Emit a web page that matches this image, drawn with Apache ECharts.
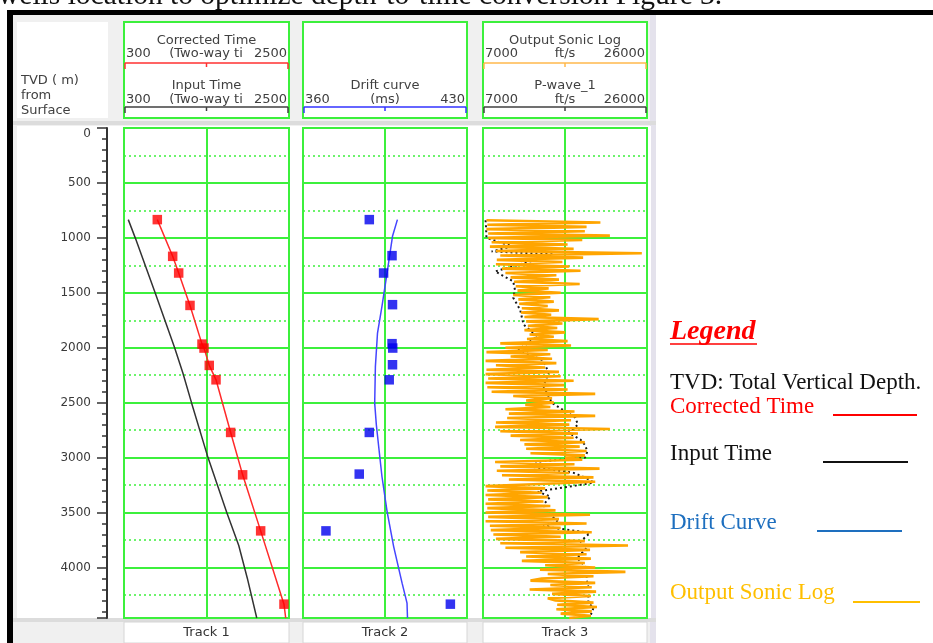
<!DOCTYPE html>
<html>
<head>
<meta charset="utf-8">
<script src="https://cdn.jsdelivr.net/npm/echarts@6/dist/echarts.min.js"></script>
<style>
html, body { margin: 0; padding: 0; background: #fff; }
#chart { width: 933px; height: 643px; }
</style>
</head>
<body>
<div id="chart"></div>
<script>
// TVD axis (m)
var depthMax = 4460;

// track scales
var timeScale = [300, 2500];
var driftScale = [360, 430];
var sonicScale = [7000, 26000];

// track 1 - corrected time picks (squares) and curve
var corrDepth = [834, 1168, 1320, 1615, 1967, 2003, 2161, 2292, 2771, 3157, 3667, 4334];
var corrTime = [744, 949, 1029, 1180, 1340, 1367, 1437, 1527, 1722, 1882, 2122, 2433];
var corrCurveDepth = [834, 1168, 1320, 1615, 1967, 2003, 2161, 2292, 2771, 3157, 3667, 4334, 4460];
var corrCurveTime = [744, 949, 1029, 1180, 1340, 1367, 1437, 1527, 1722, 1882, 2122, 2433, 2456];

// track 1 - input time
var inputDepth = [834, 1000, 1500, 2000, 2230, 2500, 3000, 3500, 3800, 4100, 4460];
var inputTime = [357, 450, 715, 975, 1085, 1200, 1420, 1670, 1830, 1945, 2070];

// track 2 - drift
var driftPickDepth = [834, 1162, 1320, 1608, 1963, 2003, 2155, 2292, 2771, 3150, 3667, 4334];
var driftPickVal = [388.3, 398, 394.4, 398.2, 398, 398.3, 398.2, 396.8, 388.3, 384, 369.8, 422.9];
var driftDepth = [834, 986, 1317, 1624, 1866, 2170, 2504, 2701, 2899, 3172, 3491, 3810, 4143, 4325, 4460];
var driftVal = [400.3, 398.2, 395.9, 393.7, 391.8, 390.9, 390.6, 391.3, 392.3, 393.7, 395.9, 398.7, 402.3, 404.4, 404.6];

// track 3 - output sonic log, sampled every 20 m from 840 m
var sonicTop = 840, sonicStep = 20;
var sonicVel = [
  7400, 20600, 7500, 19000, 7400, 18800, 7600, 21700,
  7600, 18500, 8000, 16800, 7800, 17500,
  8500, 25400,
  9000, 18600, 8600, 16200,
  8500, 17000, 9200, 18300, 9600, 15500,
  10200, 15800, 10600, 18200, 10800, 14600, 11000,
  16000, 10500, 14800, 11100,
  15200, 11200, 14500, 11500, 15800, 11400, 14900, 11800, 20400,
  12000, 16200, 12200, 15600, 11800, 16500, 12400, 15200, 12100, 16800,
  9000, 17200,
  9600, 14500, 7400, 14800, 10200,
  15000, 7300, 15500, 8500, 14200, 7400, 15800,
  7300, 16000, 7600, 17500, 7300, 16400, 7500, 16800, 8000,
  20000, 10500,
  15000, 12000, 15200, 11900, 14800,
  9600, 17600, 10000, 20000, 9800, 17200, 8500,
  17000, 8400, 21700, 9000, 18000, 10200, 17500,
  11300, 18800, 11800, 18200, 12000, 19000, 12500,
  18800, 16500, 18500,
  8400, 17600, 9000, 20500, 8600, 17000, 9200, 19800, 10000,
  20000, 13600,
  7300, 14200, 7500, 13800, 7300, 14500, 7600, 14000, 7300, 14800, 7500,
  15400, 7300, 19400, 7600, 15800, 7300, 19000, 7800, 16000,
  7900, 19600, 8200, 16000, 8500,
  18800, 9000, 23800, 9600,
  19400, 11300, 19000, 12000, 19500, 11500, 18800,
  14200, 20000, 13600, 23500, 14500, 19800, 13800,
  12500, 20000, 14800, 19600, 12400, 20100, 15000, 19500, 14500,
  15400, 19800, 15600, 20200, 15500, 19600, 16000, 19500,
  17000
];

// track 3 - P-wave_1
var pwaveDepth = [840, 900, 1000, 1077, 1123, 1150, 1214, 1305, 1396, 1472, 1545, 1654, 1790, 1897, 2018, 2109, 2155, 2228, 2350, 2503, 2637, 2700, 2774, 2837, 2883, 2944, 3002, 3035, 3081, 3139, 3202, 3229, 3309, 3354, 3430, 3503, 3580, 3627, 3685, 3764, 3824, 3913, 4004, 4113, 4174, 4265, 4323, 4368, 4430];
var pwaveVel = [7300, 7350, 7400, 10400, 8000, 15100, 12500, 8400, 10500, 10700, 10500, 11300, 11700, 13300, 11100, 13800, 14200, 14600, 14000, 15000, 17700, 18000, 16900, 18300, 18800, 19100, 18800, 13600, 12500, 17500, 19400, 19800, 13300, 14800, 14000, 14600, 15600, 14000, 19400, 18300, 19000, 17900, 19000, 19000, 19200, 19200, 19200, 19800, 19500];

function pairs(xs, ys) {
  return xs.map(function (x, i) { return [x, ys[i]]; });
}

var sonicData = sonicVel.map(function (v, i) { return [v, sonicTop + i * sonicStep]; });

var green = '#3cf03c';
var hdrFont = '13px "DejaVu Sans"';
var hdrColor = '#404040';
var tracks = [
  { left: 124, width: 165, label: 'Track 1' },
  { left: 303, width: 164, label: 'Track 2' },
  { left: 483, width: 164, label: 'Track 3' }
];
var plotTop = 128, plotHeight = 490;

function txt(x, y, s, align, font, color) {
  return {
    type: 'text', silent: true, z: 10,
    style: {
      text: s, x: x, y: y, font: font || hdrFont, fill: color || hdrColor,
      align: align || 'left', textAlign: align || 'left',
      verticalAlign: 'middle', textVerticalAlign: 'middle'
    }
  };
}
function seg(x1, y1, x2, y2, color, w) {
  return { type: 'line', silent: true, z: 10, shape: { x1: x1, y1: y1, x2: x2, y2: y2 }, style: { stroke: color, lineWidth: w || 1.5 } };
}
function rect(x, y, w, h, fill, stroke, lw, z) {
  return { type: 'rect', silent: true, z: z || 0, shape: { x: x, y: y, width: w, height: h }, style: { fill: fill, stroke: stroke || null, lineWidth: lw || 0 } };
}
function scaleBar(t, y, color) {
  var l = t.left + 1, r = t.left + t.width - 1, m = t.left + t.width / 2;
  return [seg(l, y, r, y, color, 1.5), seg(l, y, l, y + 6, color, 1.5), seg(m, y, m, y + 4, color, 1.5), seg(r, y, r, y + 6, color, 1.5)];
}
function scaleText(t, y, lo, mid, hi, midX) {
  return [
    txt(t.left + 2, y, String(lo), 'left'),
    txt(midX, y, mid, 'center'),
    txt(t.left + t.width - 2, y, String(hi), 'right')
  ];
}

var g = [];
// cut-off caption at the very top
g.push({ type: 'text', silent: true, z: 0, style: { text: 'wells location to optimize depth-to-time conversion Figure 3.', x: -2, y: 11.5, font: '29.5px "Liberation Serif"', fill: '#111', textVerticalAlign: 'bottom', verticalAlign: 'bottom' } });
// frame
g.push(rect(13, 15, 643, 628, '#f0f0f0'));
g.push(rect(650, 15, 6, 628, '#e4e2ec'));
g.push(rect(7, 10, 926, 5, '#000', null, 0, 3));
g.push(rect(7, 10, 6, 633, '#000', null, 0, 3));
// header boxes
g.push(rect(17, 22, 91, 96, '#fff'));
g.push(rect(13, 121, 643, 4, '#dcdcdc'));
g.push(rect(17, 126, 634, 493, '#fff'));
g.push(rect(13, 618, 643, 4, '#dcdcdc'));
g.push(txt(21, 81, 'TVD ( m)', 'left'));
g.push(txt(21, 96, 'from', 'left'));
g.push(txt(21, 111, 'Surface', 'left'));
tracks.forEach(function (t) {
  g.push(rect(t.left, 22, t.width, 96, '#fff', green, 2, 1));
  g.push(rect(t.left, 622, t.width, 21, '#fff', '#d6d6d6', 1, 1));
  g.push(txt(t.left + t.width / 2, 633, t.label, 'center', '13px "DejaVu Sans"', '#333'));
});
var t1 = tracks[0], t2 = tracks[1], t3 = tracks[2];
g.push(txt(t1.left + t1.width / 2, 41, 'Corrected Time', 'center'));
g = g.concat(scaleText(t1, 54, timeScale[0], '(Two-way ti', timeScale[1], 206));
g = g.concat(scaleBar(t1, 63, '#ff3030'));
g.push(txt(t1.left + t1.width / 2, 86, 'Input Time', 'center'));
g = g.concat(scaleText(t1, 100, timeScale[0], '(Two-way ti', timeScale[1], 206));
g = g.concat(scaleBar(t1, 107, '#404040'));

g.push(txt(t2.left + t2.width / 2, 86, 'Drift curve', 'center'));
g = g.concat(scaleText(t2, 100, driftScale[0], '(ms)', driftScale[1], t2.left + t2.width / 2));
g = g.concat(scaleBar(t2, 107, '#3333ff'));

g.push(txt(t3.left + t3.width / 2, 41, 'Output Sonic Log', 'center'));
g = g.concat(scaleText(t3, 54, sonicScale[0], 'ft/s', sonicScale[1], t3.left + t3.width / 2));
g = g.concat(scaleBar(t3, 63, '#ffb84d'));
g.push(txt(t3.left + t3.width / 2, 86, 'P-wave_1', 'center'));
g = g.concat(scaleText(t3, 100, sonicScale[0], 'ft/s', sonicScale[1], t3.left + t3.width / 2));
g = g.concat(scaleBar(t3, 107, '#404040'));

// legend panel
var serif = '"Liberation Serif"';
g.push(txt(670, 332, 'Legend', 'left', 'italic bold 28px ' + serif, '#ff0000'));
g.push(seg(670, 344, 757, 344, '#ff0000', 1.5));
g.push(txt(670, 383, 'TVD: Total Vertical Depth.', 'left', '23px ' + serif, '#111'));
g.push(txt(670, 407, 'Corrected Time', 'left', '23px ' + serif, '#ff0000'));
g.push(seg(833, 415, 917, 415, '#ff0000', 2));
g.push(txt(670, 454, 'Input Time', 'left', '23px ' + serif, '#111'));
g.push(seg(823, 462, 908, 462, '#111', 2));
g.push(txt(670, 523, 'Drift Curve', 'left', '23px ' + serif, '#1e6fbf'));
g.push(seg(817, 531, 902, 531, '#1e6fbf', 2));
g.push(txt(670, 593, 'Output Sonic Log', 'left', '23px ' + serif, '#ffbf00'));
g.push(seg(853, 602, 920, 602, '#ffbf00', 2));

var grids = tracks.map(function (t) {
  return { left: t.left, top: plotTop, width: t.width, height: plotHeight, show: true, backgroundColor: '#fff', borderColor: green, borderWidth: 2, z: 1 };
});
// narrow grid that only carries the TVD axis
grids.push({ left: 107, top: plotTop, width: 10, height: plotHeight, show: false });

function frameX(gi) {
  return { type: 'value', gridIndex: gi, z: 2, min: 0, max: 2, interval: 1, axisLine: { show: false }, axisTick: { show: false }, axisLabel: { show: false }, splitLine: { show: true, lineStyle: { color: green, width: 2 } } };
}
function dataX(gi, sc) {
  return { type: 'value', gridIndex: gi, min: sc[0], max: sc[1], show: false };
}
function gridY(gi) {
  return {
    type: 'value', gridIndex: gi, z: 2, inverse: true, min: 0, max: depthMax, interval: 500,
    axisLine: { show: false }, axisTick: { show: false }, axisLabel: { show: false },
    splitLine: { show: true, lineStyle: { color: green, width: 2 } },
    minorTick: { show: false, splitNumber: 2 },
    minorSplitLine: { show: true, lineStyle: { color: green, width: 1.5, type: [2, 3] } }
  };
}

var depthAxis = {
  type: 'value', gridIndex: 3, z: 2, inverse: true, min: 0, max: depthMax, interval: 500,
  position: 'left',
  axisLine: { show: true, lineStyle: { color: '#333', width: 2 } },
  axisTick: { show: true, inside: false, length: 10, lineStyle: { color: '#333', width: 1.5 } },
  minorTick: { show: true, splitNumber: 5, length: 5, lineStyle: { color: '#333', width: 1.5 } },
  splitLine: { show: false },
  axisLabel: {
    margin: 16, color: '#3a3a3a', fontSize: 12, fontFamily: 'DejaVu Sans',
    showMaxLabel: false, verticalAlignMinLabel: 'top',
    formatter: function (v) { return String(v); }
  }
};

var option = {
  animation: false,
  backgroundColor: '#fff',
  graphic: { elements: g },
  grid: grids,
  xAxis: [frameX(0), dataX(0, timeScale), frameX(1), dataX(1, driftScale), frameX(2), dataX(2, sonicScale),
    { type: 'value', gridIndex: 3, min: 0, max: 1, show: false }],
  yAxis: [depthAxis, gridY(0), gridY(1), gridY(2)],
  series: [
    {
      name: 'Input Time', type: 'line', xAxisIndex: 1, yAxisIndex: 1, showSymbol: false, z: 4,
      lineStyle: { color: '#333', width: 1.5 }, data: pairs(inputTime, inputDepth)
    },
    {
      name: 'Corrected Time', type: 'line', xAxisIndex: 1, yAxisIndex: 1, showSymbol: false, z: 4,
      lineStyle: { color: '#ff2a2a', width: 1.5 }, data: pairs(corrCurveTime, corrCurveDepth)
    },
    {
      name: 'Corrected Time picks', type: 'scatter', xAxisIndex: 1, yAxisIndex: 1, symbol: 'rect', symbolSize: 9.5, z: 5,
      itemStyle: { color: '#ff0000' }, data: pairs(corrTime, corrDepth)
    },
    {
      name: 'Drift curve', type: 'line', xAxisIndex: 3, yAxisIndex: 2, showSymbol: false, z: 4,
      lineStyle: { color: '#4545ff', width: 1.5 }, data: pairs(driftVal, driftDepth)
    },
    {
      name: 'Drift picks', type: 'scatter', xAxisIndex: 3, yAxisIndex: 2, symbol: 'rect', symbolSize: 9.5, z: 5,
      itemStyle: { color: '#0000ee' }, data: pairs(driftPickVal, driftPickDepth)
    },
    {
      name: 'P-wave_1', type: 'line', xAxisIndex: 5, yAxisIndex: 3, showSymbol: false, z: 4,
      lineStyle: { color: '#1a1a1a', width: 2, type: [2, 3] }, data: pairs(pwaveVel, pwaveDepth)
    },
    {
      name: 'Output Sonic Log', type: 'line', xAxisIndex: 5, yAxisIndex: 3, showSymbol: false, z: 5,
      lineStyle: { color: '#ffa500', width: 2.6 }, data: sonicData
    }
  ]
};

var chart = echarts.init(document.getElementById('chart'));
chart.setOption(option);
</script>
</body>
</html>
